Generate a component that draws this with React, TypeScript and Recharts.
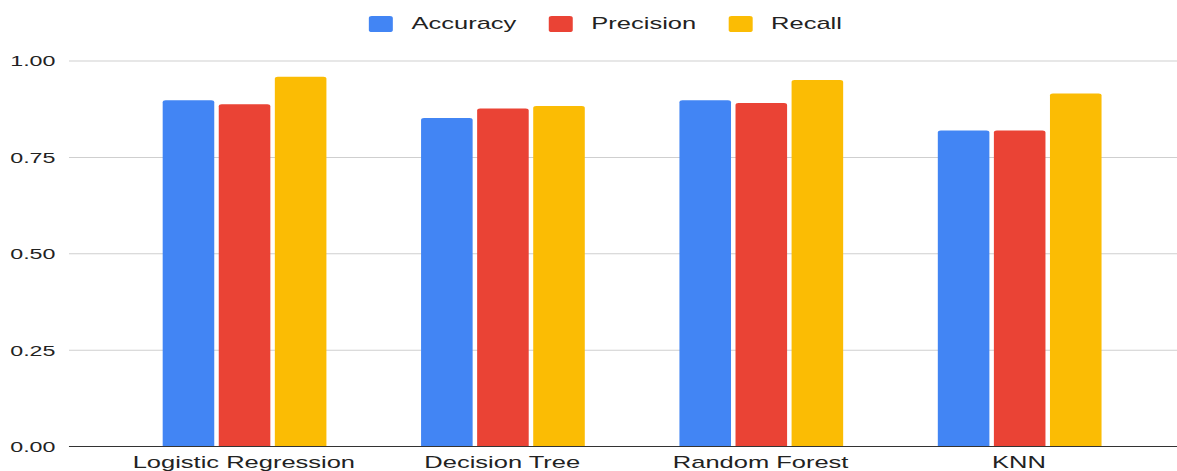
import React from "react";
import {
  BarChart,
  Bar,
  XAxis,
  YAxis,
  CartesianGrid,
  Legend,
} from "recharts";

const categories = ["Logistic Regression", "Decision Tree", "Random Forest", "KNN"];
const accuracy = [0.898, 0.852, 0.898, 0.82];
const precision = [0.888, 0.877, 0.891, 0.82];
const recall = [0.959, 0.883, 0.951, 0.916];
const yTicks = [0, 0.25, 0.5, 0.75, 1];

const series = [
  { key: "accuracy", name: "Accuracy", color: "#4285F4" },
  { key: "precision", name: "Precision", color: "#EA4335" },
  { key: "recall", name: "Recall", color: "#FBBC04" },
];

const data = categories.map((name, i) => ({
  name,
  accuracy: accuracy[i],
  precision: precision[i],
  recall: recall[i],
}));

// the reference image is stretched ~1.5x horizontally, so draw narrow and scale
const W = 785;
const H = 471;
const FONT = "'Liberation Sans', Arial, sans-serif";

const LegendContent = () => (
  <div
    style={{
      display: "flex",
      justifyContent: "center",
      alignItems: "center",
      paddingLeft: 23,
      fontFamily: FONT,
      fontSize: 17,
      color: "#222",
    }}
  >
    {series.map((s) => (
      <div
        key={s.key}
        style={{ display: "flex", alignItems: "center", margin: "0 11px" }}
      >
        <span
          style={{
            width: 16,
            height: 16,
            background: s.color,
            borderRadius: 2,
            marginRight: 12,
            display: "inline-block",
          }}
        />
        <span>{s.name}</span>
      </div>
    ))}
  </div>
);

export default function App() {
  return (
    <div
      style={{
        position: "absolute",
        left: 0,
        top: 0,
        width: W,
        height: H,
        transform: `scaleX(${1177 / W})`,
        transformOrigin: "0 0",
        background: "#fff",
      }}
    >
      <BarChart
        width={W}
        height={H}
        data={data}
        margin={{ top: 41, right: 0, left: 0, bottom: 0 }}
        barGap={3}
        barSize={34.4}
      >
        <CartesianGrid vertical={false} stroke="#cfcfcf" />
        <XAxis
          dataKey="name"
          height={24.5}
          tickLine={false}
          tickSize={0}
          tickMargin={9.5}
          padding={{ left: 30.5, right: 19.2 }}
          axisLine={{ stroke: "#333" }}
          tick={{ fill: "#222", fontSize: 17, fontFamily: FONT }}
          interval={0}
        />
        <YAxis
          width={46}
          domain={[0, 1]}
          ticks={yTicks}
          tickFormatter={(v: number) => v.toFixed(2)}
          axisLine={false}
          tickLine={false}
          tickSize={0}
          tickMargin={9}
          tick={{ fill: "#222", fontSize: 15.5, fontFamily: FONT }}
        />
        <Legend
          verticalAlign="top"
          content={<LegendContent />}
          wrapperStyle={{ top: 14, left: 0, width: W }}
        />
        {series.map((s) => (
          <Bar
            key={s.key}
            dataKey={s.key}
            name={s.name}
            fill={s.color}
            radius={[2, 2, 0, 0]}
            isAnimationActive={false}
          />
        ))}
      </BarChart>
    </div>
  );
}
